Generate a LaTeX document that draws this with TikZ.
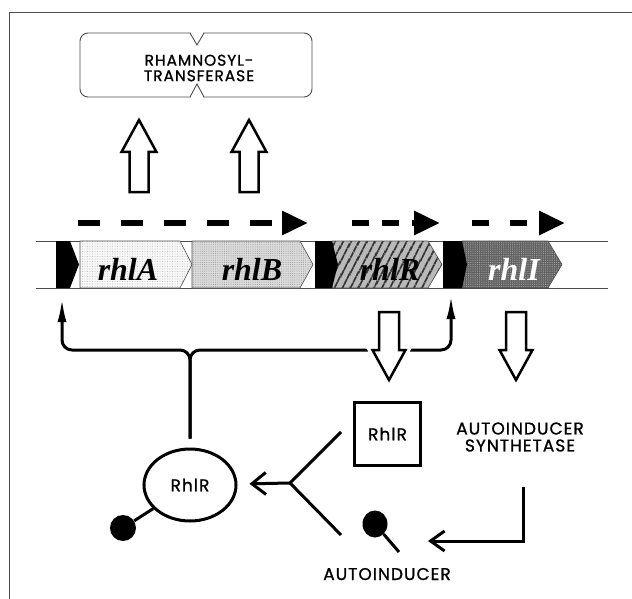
\documentclass[tikz,border=0pt]{standalone}
\usepackage{fontspec}
\setmainfont{Liberation Serif}
\newfontfamily\labelfont{Poppins}[FakeBold=1, LetterSpace=6]
\usetikzlibrary{arrows.meta,patterns.meta,shapes.geometric}
\begin{document}
\begin{tikzpicture}[x=1pt,y=-1pt,
  lbl/.style={font=\labelfont\fontsize{17}{17}\selectfont, inner sep=0},
  gene/.style={font=\fontsize{32}{32}\selectfont\bfseries\itshape, inner sep=0, anchor=base},
  reg/.style={line width=3pt, black},
  hollow/.style={draw=black, line width=2.5pt, fill=white, line join=miter,
                 preaction={draw=white, line width=9pt}},
  dasharrow/.style={line width=6pt, -{Triangle[length=26pt,width=23pt]}},
  genebox/.style={draw=gray!60!black, line width=0.6pt},
  promoter/.style={fill=black},
  thinframe/.style={draw=gray!60!black, line width=0.8pt},
  uparrow/.pic={\draw[hollow] (-9.5,0) -- (-9.5,-40) -- (-17.5,-40) -- (0,-72) -- (17.5,-40) -- (9.5,-40) -- (9.5,0) -- cycle;},
  downarrow/.pic={\draw[hollow] (-10,0) -- (-10,38) -- (-16.5,38) -- (0,68) -- (16.5,38) -- (10,38) -- (10,0) -- cycle;}
]
\useasboundingbox (0,0) rectangle (632,599);
% frame
\draw[thinframe] (9,599) -- (9,12) -- (632,12);

% rhamnosyltransferase box
\draw[thinframe, line width=0.9pt, rounded corners=8pt] (80,33) rectangle (312,97);
\fill[white] (190,31) -- (197,45) -- (204,31) -- cycle;
\fill[white] (190,99) -- (197,84) -- (204,99) -- cycle;
\draw[thinframe, line width=0.9pt] (190,33) -- (197,45) -- (204,33);
\draw[thinframe, line width=0.9pt] (190,97) -- (197,84) -- (204,97);
\node[lbl, font=\labelfont\fontsize{15.5}{15.5}\selectfont, align=center] (rt) at (199,68) {RHAMNOSYL-\\TRANSFERASE};

% hollow up arrows
\pic (ua1) at (139,192) {uparrow};
\pic (ua2) at (249,192) {uparrow};

% transcription arrows
\coordinate (t1s) at (78,223);  \coordinate (t1e) at (308,223);
\coordinate (t2s) at (352,223); \coordinate (t2e) at (440,223);
\coordinate (t3s) at (472,223); \coordinate (t3e) at (565,223);
\draw[dasharrow, dash pattern=on 22pt off 21pt] (t1s) -- (t1e);
\draw[dasharrow, dash pattern=on 17pt off 13pt] (t2s) -- (t2e);
\draw[dasharrow, dash pattern=on 17pt off 21pt] (t3s) -- (t3e);

% DNA strip
\draw[thinframe] (36,241) -- (608,241) (36,288) -- (608,288);
\draw[genebox, preaction={fill=gray!6}, pattern={Dots[distance=2.5pt,radius=0.45pt]}, pattern color=gray!70]
  (80,241) -- (180,241) -- (192,264.5) -- (180,288) -- (80,288) -- cycle;
\draw[genebox, preaction={fill=gray!28}, pattern={Dots[distance=2.2pt,radius=0.5pt]}, pattern color=gray!80]
  (192,241) -- (300,241) -- (313,264.5) -- (300,288) -- (192,288) -- cycle;
\draw[genebox, preaction={fill=gray!55}, pattern={Lines[angle=62,distance=6.5pt,line width=2.2pt]}, pattern color=black!85]
  (332,241) -- (428,241) -- (442,264.5) -- (428,288) -- (332,288) -- cycle;
\draw[genebox, preaction={fill=black!62}, pattern={Dots[distance=2.2pt,radius=0.6pt]}, pattern color=black!35]
  (462,241) -- (548,241) -- (562,264.5) -- (548,288) -- (462,288) -- cycle;
\fill[promoter] (56,241) -- (70,241) -- (79,264.5) -- (70,288) -- (56,288) -- cycle;
\fill[promoter] (315,241) -- (332,241) -- (338,264.5) -- (332,288) -- (315,288) -- cycle;
\fill[promoter] (443,241) -- (462,241) -- (467,264.5) -- (462,288) -- (443,288) -- cycle;
\node[gene] (rhlA) at (128,280) {rhlA};
\node[gene] (rhlB) at (252,280) {rhlB};
\node[gene] (rhlR) at (390,280) {rhlR};
\node[gene, text=white] (rhlI) at (514,280) {rhlI};

% proteins
\node[ellipse, draw, line width=3pt, minimum width=92pt, minimum height=72pt, lbl] (ell) at (190,485) {RhlR};
\node[draw, line width=3pt, minimum width=66pt, minimum height=63pt, lbl] (sq) at (387.5,434) {RhlR};
\node[lbl, align=center] (syn) at (520,437) {AUTOINDUCER\\SYNTHETASE};
\node[lbl, anchor=base] (ai) at (387,580) {AUTOINDUCER};

% regulation lines to promoters
\coordinate (p1) at (62,298);
\coordinate (p2) at (451,295);
\coordinate (hl) at (62,350);
\coordinate (hr) at (451,350);
\draw[reg, -{Latex[length=24pt,width=9pt]}, rounded corners=10pt, shorten <=9pt] (ell.north) -- (ell.north |- hl) -- (hl) -- (p1);
\draw[reg, -{Latex[length=24pt,width=9pt]}, rounded corners=10pt, shorten <=9pt] (ell.north) -- (ell.north |- hr) -- (hr) -- (p2);

% hollow down arrows
\pic (da1) at (389,312) {downarrow};
\pic (da2) at (516,312) {downarrow};

% autoinducer molecules
\node[circle, fill=black, minimum size=26pt, inner sep=0] (d1) at (123,528) {};
\draw[reg] (d1) -- (ell);
\node[ellipse, fill=black, minimum width=25pt, minimum height=27pt, inner sep=0] (d2) at (375,524) {};
\coordinate (d2e) at (399,552);
\draw[reg] (d2) -- (d2e);

% binding Y
\coordinate (yj) at (290,483);
\coordinate (ya) at (341,432);
\coordinate (yb) at (341,535);
\draw[reg] (ya) -- (yj) -- (yb);
\draw[reg, -{Straight Barb[length=14pt,width=22pt]}, shorten >=12pt] (yj) -- (ell);

% synthetase to autoinducer
\coordinate (r0) at (523,487);
\coordinate (r1) at (523,541);
\coordinate (r2) at (428,541);
\draw[reg, line join=miter, -{Straight Barb[length=14pt,width=20pt]}] (r0) -- (r1) -- (r2);
\end{tikzpicture}
\end{document}
